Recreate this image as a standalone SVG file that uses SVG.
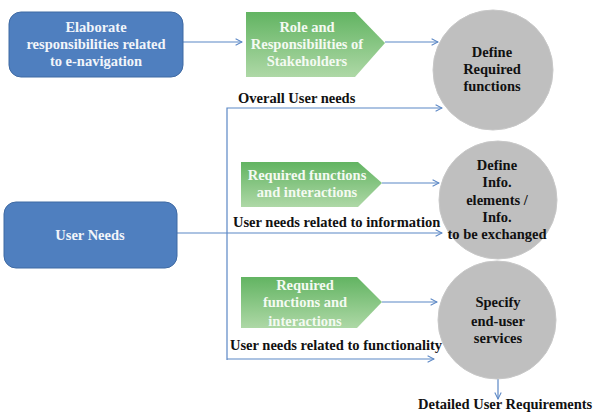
<svg xmlns="http://www.w3.org/2000/svg" width="595" height="413" viewBox="0 0 595 413">
<defs>
<linearGradient id="gg" x1="0" y1="0" x2="0" y2="1">
<stop offset="0" stop-color="#62b462"/>
<stop offset="1" stop-color="#aed8a6"/>
</linearGradient>
<marker id="ah" viewBox="0 0 10 10" refX="9" refY="5" markerWidth="8" markerHeight="8" orient="auto" markerUnits="userSpaceOnUse">
<path d="M1,1 L9,5 L1,9" fill="none" stroke="#5b87c5" stroke-width="1.3"/>
</marker>
</defs>
<style>
text{font-family:"Liberation Serif","DejaVu Serif",serif;font-weight:bold;font-size:14.5px;text-anchor:middle}
.box{fill:#4f7fbf;stroke:#3f6aa3;stroke-width:1}
.bt{fill:#f2f5fa}
.pent{fill:url(#gg)}
.gt{fill:#f4faf2}
.circ{fill:#bfbfbf;stroke:#c8c8c8;stroke-width:1}
.ct{fill:#111}
.lbl{fill:#111;text-anchor:start}
.con{fill:none;stroke:#5b87c5;stroke-width:1.2}
</style>
<g id="connectors">
<line class="con" x1="183" y1="42" x2="242" y2="42" marker-end="url(#ah)"/>
<line class="con" x1="385" y1="42" x2="438" y2="42" marker-end="url(#ah)"/>
<polyline class="con" points="227,360 227,108 442,108" marker-end="url(#ah)"/>
<line class="con" x1="177" y1="233" x2="442" y2="233" marker-end="url(#ah)"/>
<line class="con" x1="382" y1="183" x2="439" y2="183" marker-end="url(#ah)"/>
<line class="con" x1="382" y1="302" x2="437" y2="302" marker-end="url(#ah)"/>
<polyline class="con" points="227,359 434,359" marker-end="url(#ah)"/>
<line class="con" x1="498" y1="379" x2="498" y2="399" marker-end="url(#ah)"/>
</g>
<g id="elaborate">
<rect class="box" x="9" y="12" width="174" height="65" rx="12"/>
<text class="bt" x="96" y="32">Elaborate</text>
<text class="bt" x="96" y="49">responsibilities related</text>
<text class="bt" x="96" y="66">to e-navigation</text>
</g>
<g id="role">
<polygon class="pent" points="246,12 355,12 385,43 355,77 246,77"/>
<text class="gt" x="307" y="32">Role and</text>
<text class="gt" x="307" y="49">Responsibilities of</text>
<text class="gt" x="307" y="66">Stakeholders</text>
</g>
<g id="define-functions">
<circle class="circ" cx="493" cy="70" r="60"/>
<text class="ct" x="492" y="57">Define</text>
<text class="ct" x="492" y="74">Required</text>
<text class="ct" x="492" y="91">functions</text>
</g>
<g id="user-needs">
<rect class="box" x="4" y="202" width="173" height="66" rx="12"/>
<text class="bt" x="90" y="240">User Needs</text>
</g>
<g id="req1">
<polygon class="pent" points="241,162 358,162 382,183 358,207 241,207"/>
<text class="gt" x="307" y="180">Required functions</text>
<text class="gt" x="307" y="197">and interactions</text>
</g>
<g id="define-info">
<circle class="circ" cx="498" cy="200" r="59"/>
<text class="ct" x="497" y="170">Define</text>
<text class="ct" x="497" y="187">Info.</text>
<text class="ct" x="497" y="205">elements /</text>
<text class="ct" x="497" y="222">Info.</text>
<text class="ct" x="497" y="239">to be exchanged</text>
</g>
<g id="req2">
<polygon class="pent" points="241,277 357,277 382,302 357,328 241,328"/>
<text class="gt" x="305" y="290">Required</text>
<text class="gt" x="305" y="307">functions and</text>
<text class="gt" x="305" y="326">interactions</text>
</g>
<g id="specify">
<circle class="circ" cx="497" cy="320" r="59"/>
<text class="ct" x="498" y="307">Specify</text>
<text class="ct" x="498" y="326">end-user</text>
<text class="ct" x="498" y="343">services</text>
</g>
<g id="labels">
<text class="lbl" x="238" y="103">Overall User needs</text>
<text class="lbl" x="233" y="227">User needs related to information</text>
<text class="lbl" x="230" y="350">User needs related to functionality</text>
<text class="lbl" x="418" y="409">Detailed User Requirements</text>
</g>
</svg>
